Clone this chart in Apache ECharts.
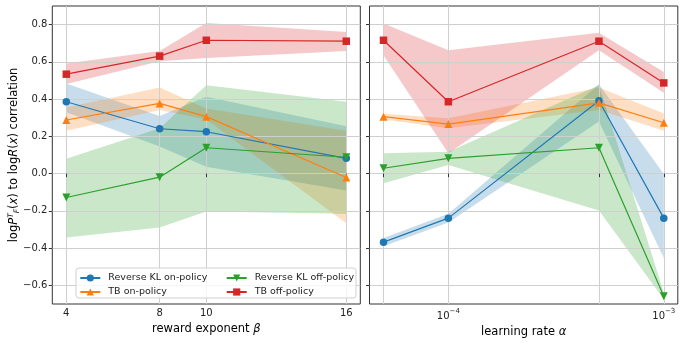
<!DOCTYPE html>
<html>
<head>
<meta charset="utf-8">
<script src="https://cdn.jsdelivr.net/npm/echarts@6/dist/echarts.min.js"></script>
<style>
  html, body { margin: 0; padding: 0; background: #fff; }
  #chart { width: 685px; height: 343px; }
</style>
</head>
<body>
<div id="chart"></div>
<script>
// left panel: reward exponent beta
const betas = [4, 8, 10, 16]
const rklOn = [0.386, 0.241, 0.225, 0.082]
const rklOnLo = [0.33, 0.145, 0.037, -0.09]
const rklOnHi = [0.484, 0.31, 0.413, 0.255]
const tbOn = [0.288, 0.377, 0.306, -0.021]
const tbOnLo = [0.23, 0.341, 0.29, -0.266]
const tbOnHi = [0.355, 0.463, 0.35, 0.23]
const rklOff = [-0.128, -0.019, 0.139, 0.088]
const rklOffLo = [-0.343, -0.289, -0.204, -0.216]
const rklOffHi = [0.08, 0.243, 0.475, 0.386]
const tbOff = [0.534, 0.631, 0.716, 0.711]
const tbOffLo = [0.481, 0.604, 0.621, 0.659]
const tbOffHi = [0.591, 0.659, 0.809, 0.761]

// right panel: learning rate alpha (log scale)
const lrs = [5e-5, 1e-4, 5e-4, 1e-3]
const rklOnLr = [-0.368, -0.239, 0.391, -0.239]
const rklOnLrLo = [-0.39, -0.262, 0.28, -0.453]
const rklOnLrHi = [-0.346, -0.216, 0.48, -0.002]
const tbOnLr = [0.306, 0.266, 0.38, 0.273]
const tbOnLrLo = [0.29, 0.243, 0.341, 0.23]
const tbOnLrHi = [0.322, 0.297, 0.463, 0.323]
const rklOffLr = [0.029, 0.082, 0.139, -0.659]
const rklOffLrLo = [-0.052, 0.046, -0.198, -0.675]
const rklOffLrHi = [0.109, 0.118, 0.475, -0.64]
const tbOffLr = [0.716, 0.386, 0.711, 0.487]
const tbOffLrLo = [0.636, 0.109, 0.663, 0.434]
const tbOffLrHi = [0.806, 0.663, 0.757, 0.546]

const yTicks = [-0.6, -0.4, -0.2, 0.0, 0.2, 0.4, 0.6, 0.8]
const lrTickLabels = [1e-4, 1e-3]

const FONT = 'DejaVu Sans'
const names = ['Reverse KL on-policy', 'TB on-policy', 'Reverse KL off-policy', 'TB off-policy']
const colors = ['#1f77b4', '#ff7f0e', '#2ca02c', '#d62728']
const bands = ['rgba(31,119,180,0.25)', 'rgba(255,127,14,0.25)', 'rgba(44,160,44,0.25)', 'rgba(214,39,40,0.25)']
const symbols = ['circle', 'triangle', 'path://M0,0 L10,0 L5,10 Z', 'rect']
const symbolSizes = [7.5, 8, 8, 7.5]

const lg = v => Math.log10(v)
const fmtMinus = s => s.replace('-', '\u2212')

function pairs(xs, ys) {
  return xs.map((x, i) => [x, ys[i]])
}

let series = []
function addMethod(k, axisIdx, xs, mid, lo, hi) {
  // shaded band: one polygon, lower edge forward then upper edge back
  series.push({
    type: 'custom', xAxisIndex: axisIdx, yAxisIndex: axisIdx, silent: true, z: 1,
    data: xs.map((x, i) => [x, lo[i], hi[i]]),
    encode: { x: 0, y: [1, 2] },
    renderItem: function (params, api) {
      if (params.dataIndex !== 0) return null
      const pts = []
      xs.forEach((x, i) => pts.push(api.coord([x, lo[i]])))
      for (let i = xs.length - 1; i >= 0; i--) pts.push(api.coord([xs[i], hi[i]]))
      return {
        type: 'polygon',
        shape: { points: pts },
        style: { fill: bands[k], stroke: null }
      }
    }
  })
  series.push({
    name: names[k], type: 'line', xAxisIndex: axisIdx, yAxisIndex: axisIdx,
    data: pairs(xs, mid), symbol: symbols[k], symbolSize: symbolSizes[k],
    itemStyle: { color: colors[k] }, lineStyle: { color: colors[k], width: 1.2 },
    z: 3
  })
}

const lrx = lrs.map(lg)
addMethod(0, 0, betas, rklOn, rklOnLo, rklOnHi)
addMethod(1, 0, betas, tbOn, tbOnLo, tbOnHi)
addMethod(2, 0, betas, rklOff, rklOffLo, rklOffHi)
addMethod(3, 0, betas, tbOff, tbOffLo, tbOffHi)
addMethod(0, 1, lrx, rklOnLr, rklOnLrLo, rklOnLrHi)
addMethod(1, 1, lrx, tbOnLr, tbOnLrLo, tbOnLrHi)
addMethod(2, 1, lrx, rklOffLr, rklOffLrLo, rklOffLrHi)
addMethod(3, 1, lrx, tbOffLr, tbOffLrLo, tbOffLrHi)

const tickText = { fontFamily: FONT, fontSize: 10, color: '#222' }
const gridLine = { show: true, lineStyle: { color: '#cfcfcf', width: 1 } }
const tickStyle = { show: true, length: 3.5, lineStyle: { color: '#333' } }

function yAxis(idx, showLabels) {
  const ax = {
    type: 'value', gridIndex: idx, min: -0.7, max: 0.9, z: 1.5,
    axisLine: { show: false },
    axisTick: Object.assign({ customValues: yTicks }, tickStyle),
    axisLabel: Object.assign({
      show: showLabels, customValues: yTicks, margin: 5,
      formatter: v => fmtMinus(v.toFixed(1))
    }, tickText),
    splitLine: gridLine
  }
  if (showLabels) {
    ax.name = '{n|log}{i|P}{t|T}{s|F}{n|(}{i|x}{n|) to log}{i|R}{n|(}{i|x}{n|) correlation}'
    ax.nameLocation = 'middle'
    ax.nameRotate = 90
    ax.nameGap = 31
    ax.nameMoveOverlap = false
    ax.nameTextStyle = {
      rich: {
        n: { fontFamily: FONT, fontSize: 11.5, color: '#000', lineHeight: 14 },
        i: { fontFamily: FONT, fontSize: 11.5, fontStyle: 'italic', color: '#000', lineHeight: 14 },
        t: { fontFamily: FONT, fontSize: 7.5, fontStyle: 'italic', color: '#000', lineHeight: 9, verticalAlign: 'top' },
        s: { fontFamily: FONT, fontSize: 7.5, fontStyle: 'italic', color: '#000', lineHeight: 9, verticalAlign: 'bottom' }
      }
    }
  }
  return ax
}

const chart = echarts.init(document.getElementById('chart'), null, { renderer: 'canvas' })
chart.setOption({
  animation: false,
  backgroundColor: '#fff',
  grid: [
    { left: 52.3, right: 324.7, top: 6, bottom: 39, show: true, borderColor: '#333', borderWidth: 1, backgroundColor: 'transparent' },
    { left: 369.5, right: 7.2, top: 6, bottom: 39, show: true, borderColor: '#333', borderWidth: 1, backgroundColor: 'transparent' }
  ],
  xAxis: [
    {
      type: 'value', gridIndex: 0, min: 3.4, max: 16.6, z: 1.5,
      axisLine: { show: false },
      axisTick: Object.assign({ customValues: betas }, tickStyle),
      axisLabel: Object.assign({ customValues: betas, margin: 4 }, tickText),
      splitLine: gridLine,
      name: '{n|reward exponent }{i|β}', nameLocation: 'middle', nameGap: 18,
      nameTextStyle: {
        rich: {
          n: { fontFamily: FONT, fontSize: 11.5, color: '#000' },
          i: { fontFamily: FONT, fontSize: 11.5, fontStyle: 'italic', color: '#000' }
        }
      }
    },
    {
      type: 'value', gridIndex: 1, min: lg(5e-5) - 0.065, max: 0.065 - 3, z: 1.5,
      axisLine: { show: false },
      axisTick: Object.assign({ customValues: lrx }, tickStyle),
      axisLabel: Object.assign({
        customValues: lrTickLabels.map(lg), margin: 4,
        formatter: v => '{b|10}{s|' + fmtMinus(String(Math.round(v))) + '}',
        rich: {
          b: { fontFamily: FONT, fontSize: 10, color: '#222', lineHeight: 13, verticalAlign: 'bottom' },
          s: { fontFamily: FONT, fontSize: 7, color: '#222', lineHeight: 13, verticalAlign: 'top' }
        }
      }, tickText),
      splitLine: gridLine,
      name: '{n|learning rate }{i|α}', nameLocation: 'middle', nameGap: 18,
      nameTextStyle: {
        rich: {
          n: { fontFamily: FONT, fontSize: 11.5, color: '#000' },
          i: { fontFamily: FONT, fontSize: 11.5, fontStyle: 'italic', color: '#000' }
        }
      }
    }
  ],
  yAxis: [yAxis(0, true), yAxis(1, false)],
  legend: [
    {
      data: [names[0], names[1]], orient: 'vertical', left: 74.3, top: 268,
      itemWidth: 20, itemHeight: 9, itemGap: 4,
      textStyle: { fontFamily: FONT, fontSize: 9.5, color: '#222', padding: [0, 0, 0, 3] }
    },
    {
      data: [names[2], names[3]], orient: 'vertical', left: 220.7, top: 268,
      itemWidth: 20, itemHeight: 9, itemGap: 4,
      textStyle: { fontFamily: FONT, fontSize: 9.5, color: '#222', padding: [0, 0, 0, 3] }
    }
  ],
  graphic: [{
    type: 'rect', z: 3,
    shape: { x: 76, y: 268, width: 280, height: 30, r: 3 },
    style: { fill: 'rgba(255,255,255,0.8)', stroke: '#d0d0d0', lineWidth: 1 }
  }],
  series: series
})
</script>
</body>
</html>
